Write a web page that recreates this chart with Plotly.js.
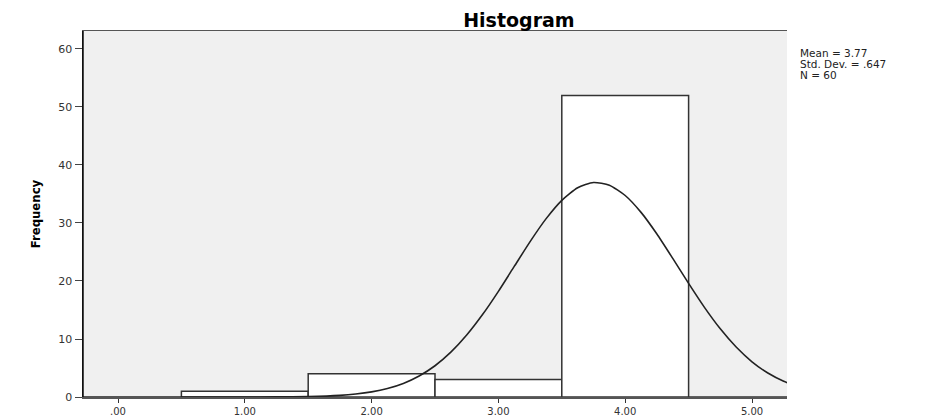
<!DOCTYPE html>
<html>
<head>
<meta charset="utf-8">
<script src="https://cdn.plot.ly/plotly-3.0.1.min.js"></script>
<style>html,body{margin:0;padding:0;background:#fff;}#chart{width:930px;height:417px;}</style>
</head>
<body>
<div id="chart"></div>
<script>
// Histogram bins (centres) and frequencies
const binCenters = [1, 2, 3, 4, 5];
const frequencies = [1, 4, 3, 52, 0];
// Normal curve
const curveX = [-0.28, 0, 0.5, 1.0, 1.25, 1.5, 1.75, 1.875, 2.0, 2.125, 2.25, 2.375, 2.5, 2.625, 2.75, 2.875, 3.0, 3.125, 3.25, 3.375, 3.5, 3.625, 3.75, 3.875, 4.0, 4.125, 4.25, 4.375, 4.5, 4.625, 4.75, 4.875, 5.0, 5.125, 5.25, 5.375];
const curveY = [0, 0, 0, 0.004, 0.02, 0.08, 0.28, 0.51, 0.88, 1.46, 2.34, 3.62, 5.39, 7.73, 10.68, 14.21, 18.22, 22.51, 26.79, 30.71, 33.91, 36.08, 36.98, 36.52, 34.74, 31.83, 28.10, 23.89, 19.58, 15.45, 11.75, 8.61, 6.07, 4.13, 2.71, 1.72];
const tickValues = [0, 1, 2, 3, 4, 5];
const tickLabels = [".00", "1.00", "2.00", "3.00", "4.00", "5.00"];
const statLines = ["Mean = 3.77", "Std. Dev. = .647", "N = 60"];

const traces = [
  {
    type: 'bar', x: binCenters, y: frequencies, width: 1,
    marker: {color: '#ffffff', line: {color: '#333333', width: 1.5}},
    hoverinfo: 'x+y'
  },
  {
    type: 'scatter', mode: 'lines', x: curveX, y: curveY,
    line: {color: '#222222', width: 1.6, shape: 'spline', smoothing: 0.6},
    cliponaxis: true, hoverinfo: 'skip'
  }
];

const annotations = statLines.map((t, i) => ({
  text: t, xref: 'paper', yref: 'paper', x: 1.016, xanchor: 'left',
  y: (417 - 20 - (53 + i * 11)) / 366, yanchor: 'middle', showarrow: false,
  font: {family: 'DejaVu Sans, sans-serif', size: 10.5, color: '#222'}
}));

const layout = {
  width: 930, height: 417,
  margin: {l: 83, r: 143, t: 31, b: 20, pad: 0},
  paper_bgcolor: '#ffffff', plot_bgcolor: '#f0f0f0',
  showlegend: false, bargap: 0,
  title: {text: '<b>Histogram</b>', x: 0.558, xanchor: 'center', y: 0.952, yanchor: 'middle',
    font: {family: 'DejaVu Sans, sans-serif', size: 19, color: '#000'}},
  xaxis: {
    range: [-0.276, 5.276], tickvals: tickValues, ticktext: tickLabels,
    ticks: 'outside', ticklen: 4, tickcolor: '#333', tickwidth: 1,
    showgrid: false, zeroline: false, showline: true, linecolor: '#555', linewidth: 1.5, mirror: true,
    tickfont: {family: 'DejaVu Sans, sans-serif', size: 10, color: '#333'}, fixedrange: true
  },
  yaxis: {
    range: [0, 63.1], tickvals: [0, 10, 20, 30, 40, 50, 60],
    ticks: 'outside', ticklen: 7, tickcolor: '#444', tickwidth: 1,
    showgrid: false, zeroline: false, showline: true, linecolor: '#111', linewidth: 1.5,
    tickfont: {family: 'DejaVu Sans, sans-serif', size: 11, color: '#333'},
    title: {text: '<b>Frequency</b>', standoff: 14,
      font: {family: 'Liberation Sans Narrow, DejaVu Sans Condensed, sans-serif', size: 13, color: '#000'}},
    fixedrange: true
  },
  shapes: [
    {type: 'line', xref: 'paper', yref: 'paper', x0: 0, x1: 0, y0: 0, y1: 1, line: {color: '#111', width: 1.5}}
  ],
  annotations: annotations
};

Plotly.newPlot('chart', traces, layout, {displayModeBar: false, staticPlot: true});
</script>
</body>
</html>
